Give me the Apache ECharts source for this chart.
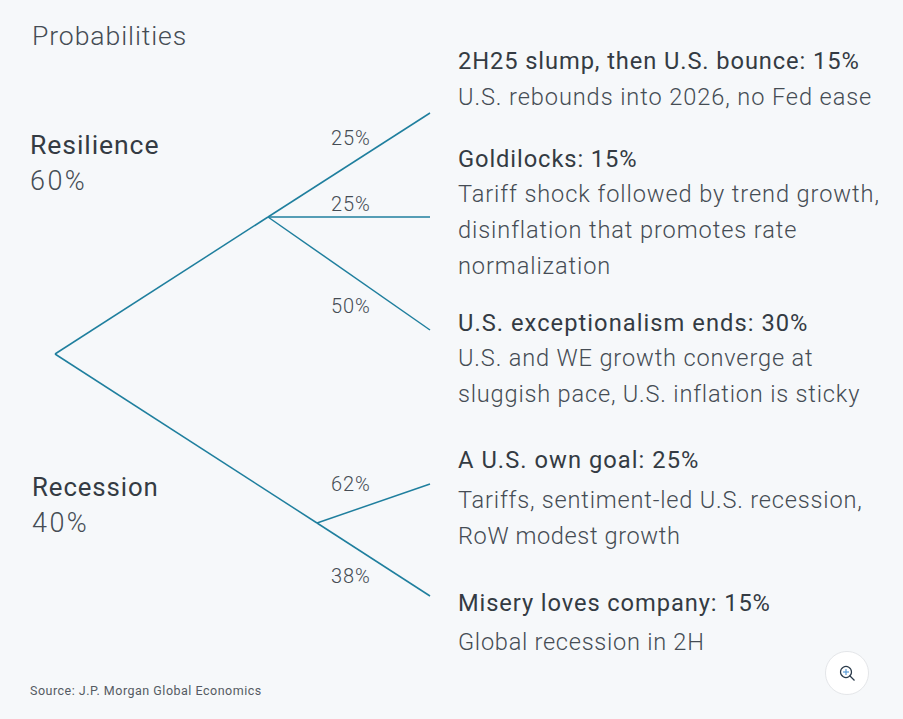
<!DOCTYPE html>
<html><head><meta charset="utf-8">
<style>html,body{margin:0;padding:0;background:#f6f8fa}#c{width:903px;height:719px;letter-spacing:.9px}</style>
<script src="https://cdn.jsdelivr.net/npm/echarts@6/dist/echarts.min.js"></script>
</head><body><div id="c"></div>
<script>
const chartTitle = "Probabilities";
const sourceNote = "Source: J.P. Morgan Global Economics";
const branchNames = ["Resilience", "Recession"];
const branchShares = ["60%", "40%"];
const edgeFrom = [[55,354],[268,217],[268,217],[268,217],[55,354],[317,523],[317,523]];
const edgeTo = [[268,217],[430,113],[430,217],[430,330],[317,523],[430,484],[430,596]];
const edgeLabels = ["25%","25%","50%","62%","38%"];
const outcomeHeads = ["2H25 slump, then U.S. bounce: 15%","Goldilocks: 15%","U.S. exceptionalism ends: 30%","A U.S. own goal: 25%","Misery loves company: 15%"];
const outcomeBodies = [
 ["U.S. rebounds into 2026, no Fed ease"],
 ["Tariff shock followed by trend growth,","disinflation that promotes rate","normalization"],
 ["U.S. and WE growth converge at","sluggish pace, U.S. inflation is sticky"],
 ["Tariffs, sentiment-led U.S. recession,","RoW modest growth"],
 ["Global recession in 2H"]
];

const FONT = "Roboto";
const DARK = "#343b43", MID = "#454c54";
const txt = (text,x,y,size,weight,fill) => ({type:"text",x,y,silent:true,
  style:{text,x:0,y:0,fill:fill||MID,font:`${weight} ${size}px ${FONT}`,verticalAlign:"middle",align:"left"}});

const headY = [61,159,323,460,603];
const bodyY = [[97],[194,230,266],[358,394],[500,536],[642]];
const edgeLabelPos = [[331,138],[331,204],[331,306],[331,484],[331,576]];

const graphics = [
  txt(chartTitle,32,35,26.6,300),
  txt(branchNames[0],30,144,26.6,400,DARK), txt(branchShares[0],30,181,27,300),
  txt(branchNames[1],32,487,25.8,400,DARK), txt(branchShares[1],32,523,27,300),
  txt(sourceNote,30,690,12.5,400,"#555b63")
];
edgeLabels.forEach((t,i)=>graphics.push(txt(t,edgeLabelPos[i][0],edgeLabelPos[i][1],20,300)));
outcomeHeads.forEach((t,i)=>{
  graphics.push(txt(t,458,headY[i],23.7,400,DARK));
  outcomeBodies[i].forEach((b,j)=>graphics.push(txt(b,458,bodyY[i][j],23.6,300)));
});
// zoom button
graphics.push({type:"circle",shape:{cx:847,cy:673,r:21.5},silent:true,style:{fill:"#fff",stroke:"#e4e6e9",lineWidth:1}});
graphics.push({type:"circle",shape:{cx:846,cy:672,r:5.5},silent:true,style:{fill:"none",stroke:"#2a3a4a",lineWidth:1.2}});
graphics.push({type:"line",shape:{x1:850,y1:676,x2:854.5,y2:680.5},silent:true,style:{stroke:"#2a3a4a",lineWidth:1.2}});
graphics.push({type:"line",shape:{x1:843,y1:672,x2:849,y2:672},silent:true,style:{stroke:"#5a9bd5",lineWidth:1.2}});
graphics.push({type:"line",shape:{x1:846,y1:669,x2:846,y2:675},silent:true,style:{stroke:"#5a9bd5",lineWidth:1.2}});

const chart = echarts.init(document.getElementById("c"),null,{renderer:"svg"});
const spacing = {
  [sourceNote]:"0.5px",[branchShares[0]]:"2.4px",[branchShares[1]]:"2.4px",
  [outcomeHeads[2]]:"1.04px",[outcomeHeads[3]]:"1.05px",
  [outcomeBodies[2][0]]:"0.84px",[outcomeBodies[2][1]]:"0.8px",
  [outcomeBodies[3][0]]:"0.8px",[outcomeBodies[3][1]]:"0.6px",
  [outcomeBodies[4][0]]:"0.72px"
};
const applySpacing = () => document.querySelectorAll("#c text").forEach(t=>{
  const s = spacing[t.textContent]; if (s) t.style.letterSpacing = s;
});
chart.on("rendered",applySpacing);
chart.setOption({
  animation:false, backgroundColor:"#f6f8fa",
  grid:{left:0,right:0,top:0,bottom:0},
  xAxis:{type:"value",min:0,max:903,show:false},
  yAxis:{type:"value",min:0,max:719,inverse:true,show:false},
  series:edgeFrom.map((a,i)=>({type:"line",data:[a,edgeTo[i]],symbol:"none",silent:true,
    lineStyle:{color:"#1f7f9e",width:1.5}})),
  graphic:graphics
});
applySpacing();
</script></body></html>
